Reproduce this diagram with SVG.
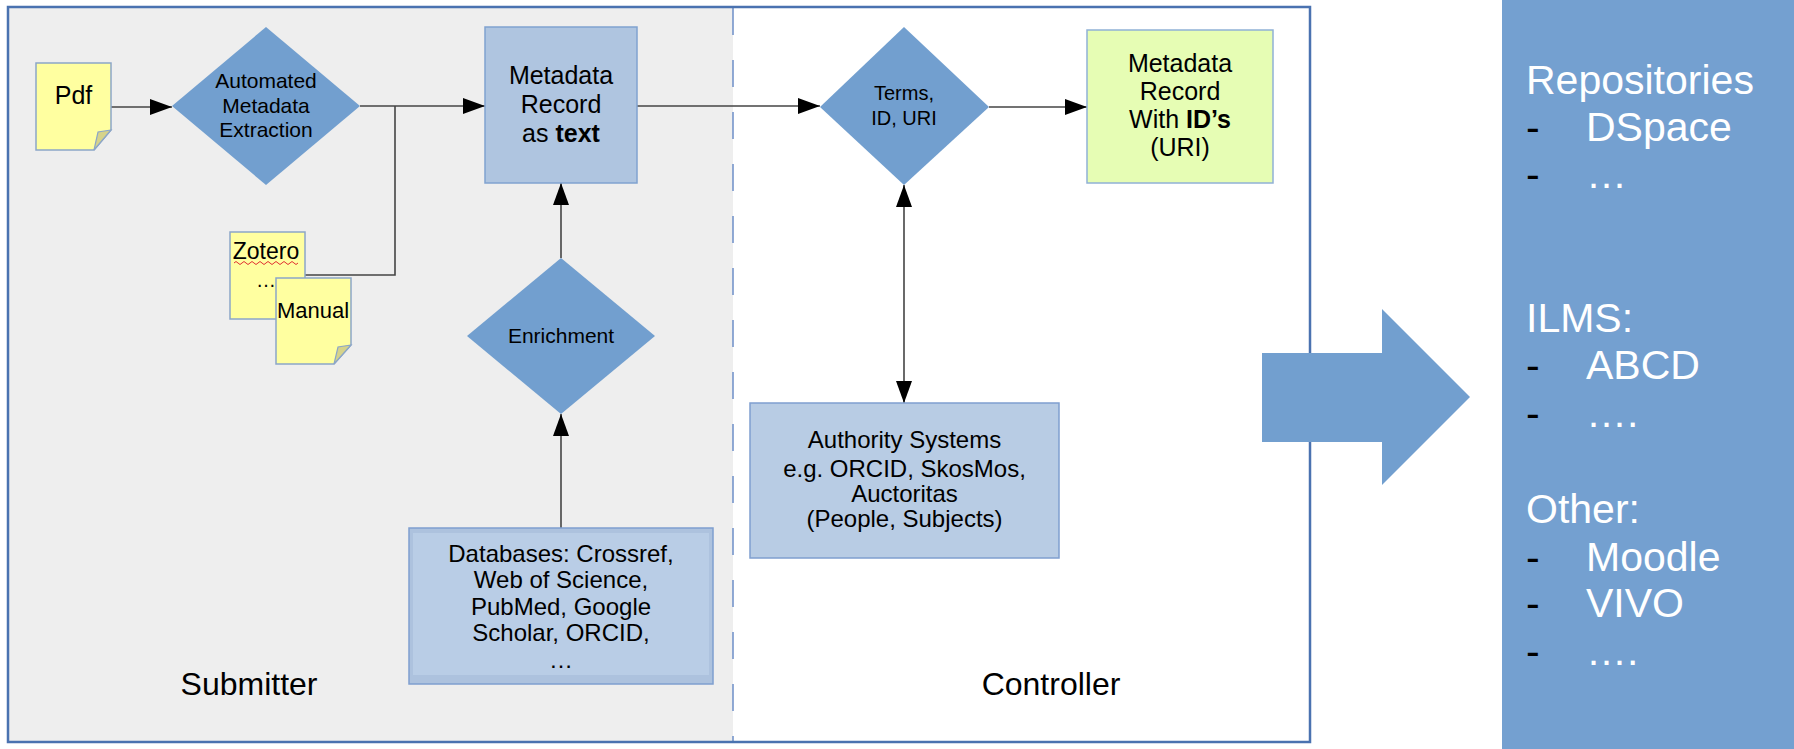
<svg xmlns="http://www.w3.org/2000/svg" width="1794" height="749" viewBox="0 0 1794 749">
<style>
text{font-family:"Liberation Sans",Arial,sans-serif;fill:#000}
.c{text-anchor:middle}
.note{fill:#ffffa0;stroke:#8ca6c8;stroke-width:1.5}
.flap{fill:#d6d38a;stroke:#8ca6c8;stroke-width:1.2}
.dia{fill:#729fcf}
.box{fill:#afc5e0;stroke:#80a2d0;stroke-width:1.5}
.con{fill:none;stroke:#444;stroke-width:1.6}
.w{fill:#fff;font-size:41px}
.k{fill:#000;font-size:41px}
</style>
<defs>
<marker id="ah" viewBox="0 0 22 16" refX="22" refY="8" markerWidth="22" markerHeight="16" markerUnits="userSpaceOnUse" orient="auto-start-reverse">
<path d="M0,0 L22,8 L0,16 Z" fill="#000"/>
</marker>
</defs>

<g id="background">
<rect x="8" y="7" width="725" height="735" fill="#eeeeee"/>
<line x1="733" y1="8" x2="733" y2="741" stroke="#6d8fc7" stroke-width="1.5" stroke-dasharray="27 25"/>
<rect x="8" y="7" width="1302" height="735" fill="none" stroke="#4a72b0" stroke-width="2.5"/>
<text class="c" x="249" y="695" font-size="32">Submitter</text>
<text class="c" x="1051" y="695" font-size="32">Controller</text>
</g>

<g id="connectors">
<path class="con" d="M111,107 H172" marker-end="url(#ah)"/>
<path class="con" d="M360,106 H485" marker-end="url(#ah)"/>
<path class="con" d="M305,275 H395 V106"/>
<path class="con" d="M637,106 H820" marker-end="url(#ah)"/>
<path class="con" d="M989,107 H1087" marker-end="url(#ah)"/>
<path class="con" d="M561,258 V183" marker-end="url(#ah)"/>
<path class="con" d="M561,528 V414" marker-end="url(#ah)"/>
<path class="con" d="M904,185 V403" marker-start="url(#ah)" marker-end="url(#ah)"/>
</g>

<g id="pdf">
<path class="note" d="M36,63 H111 V130 L94,150 H36 Z"/>
<path class="flap" d="M94,150 L98,132 L111,130 Z"/>
<text class="c" x="73.5" y="104" font-size="25">Pdf</text>
</g>

<g id="automated">
<polygon class="dia" points="266,27 360,106 266,185 172,106"/>
<text class="c" x="266" y="88" font-size="21">Automated</text>
<text class="c" x="266" y="113" font-size="21">Metadata</text>
<text class="c" x="266" y="137" font-size="21">Extraction</text>
</g>

<g id="zotero">
<rect class="note" x="230" y="232" width="75" height="87"/>
<text class="c" x="266" y="259" font-size="23">Zotero</text>
<path d="M234,263 q2,-3 4,0 t4,0 t4,0 t4,0 t4,0 t4,0 t4,0 t4,0 t4,0 t4,0 t4,0 t4,0 t4,0 t4,0 t4,0 t4,0" fill="none" stroke="#e03030" stroke-width="1"/>
<text class="c" x="266" y="287" font-size="20">…</text>
</g>

<g id="manual">
<path class="note" d="M276,278 H351 V345 L334,364 H276 Z"/>
<path class="flap" d="M334,364 L338,347 L351,345 Z"/>
<text class="c" x="313" y="318" font-size="22">Manual</text>
</g>

<g id="metadata-text">
<rect class="box" x="485" y="27" width="152" height="156"/>
<text class="c" x="561" y="84" font-size="25">Metadata</text>
<text class="c" x="561" y="113" font-size="25">Record</text>
<text class="c" x="561" y="142" font-size="25">as <tspan font-weight="bold">text</tspan></text>
</g>

<g id="enrichment">
<polygon class="dia" points="561,258 655,336 561,414 467,336"/>
<text class="c" x="561" y="343" font-size="21">Enrichment</text>
</g>

<g id="databases">
<rect x="409" y="528" width="304" height="156" fill="#adc2de" stroke="#7f9fcf" stroke-width="1.5"/>
<rect x="413" y="533" width="296" height="142" fill="#b9cde6"/>
<text class="c" x="561" y="562" font-size="24">Databases: Crossref,</text>
<text class="c" x="561" y="588" font-size="24">Web of Science,</text>
<text class="c" x="561" y="615" font-size="24">PubMed, Google</text>
<text class="c" x="561" y="641" font-size="24">Scholar, ORCID,</text>
<text class="c" x="561" y="668" font-size="24">…</text>
</g>

<g id="terms">
<polygon class="dia" points="904,27 989,107 904,185 820,107"/>
<text class="c" x="904" y="100" font-size="20">Terms,</text>
<text class="c" x="904" y="125" font-size="20">ID, URI</text>
</g>

<g id="metadata-ids">
<rect x="1087" y="30" width="186" height="153" fill="#e6fdb4" stroke="#90b1d6" stroke-width="1.5"/>
<text class="c" x="1180" y="72" font-size="25">Metadata</text>
<text class="c" x="1180" y="100" font-size="25">Record</text>
<text class="c" x="1180" y="128" font-size="25">With <tspan font-weight="bold">ID’s</tspan></text>
<text class="c" x="1180" y="156" font-size="25">(URI)</text>
</g>

<g id="authority">
<rect x="750" y="403" width="309" height="155" fill="#b8cce4" stroke="#7f9fcf" stroke-width="1.5"/>
<text class="c" x="904.5" y="448" font-size="24">Authority Systems</text>
<text class="c" x="904.5" y="477" font-size="24">e.g. ORCID, SkosMos,</text>
<text class="c" x="904.5" y="502" font-size="24">Auctoritas</text>
<text class="c" x="904.5" y="527" font-size="24">(People, Subjects)</text>
</g>

<g id="big-arrow">
<polygon fill="#729fcf" points="1262,353 1382,353 1382,309 1470,397 1382,485 1382,442 1262,442"/>
</g>

<g id="targets">
<rect x="1502" y="0" width="292" height="749" fill="#74a0d0"/>
<text class="w" x="1526" y="94">Repositories</text>
<text class="k" x="1526" y="141">-</text><text class="w" x="1586" y="141">DSpace</text>
<text class="k" x="1526" y="188">-</text><text class="w" x="1586" y="188">…</text>
<text class="w" x="1526" y="332">ILMS:</text>
<text class="k" x="1526" y="379">-</text><text class="w" x="1586" y="379">ABCD</text>
<text class="k" x="1526" y="427">-</text><text class="w" x="1586" y="427">….</text>
<text class="w" x="1526" y="523">Other:</text>
<text class="k" x="1526" y="571">-</text><text class="w" x="1586" y="571">Moodle</text>
<text class="k" x="1526" y="617">-</text><text class="w" x="1586" y="617">VIVO</text>
<text class="k" x="1526" y="665">-</text><text class="w" x="1586" y="665">….</text>
</g>
</svg>
